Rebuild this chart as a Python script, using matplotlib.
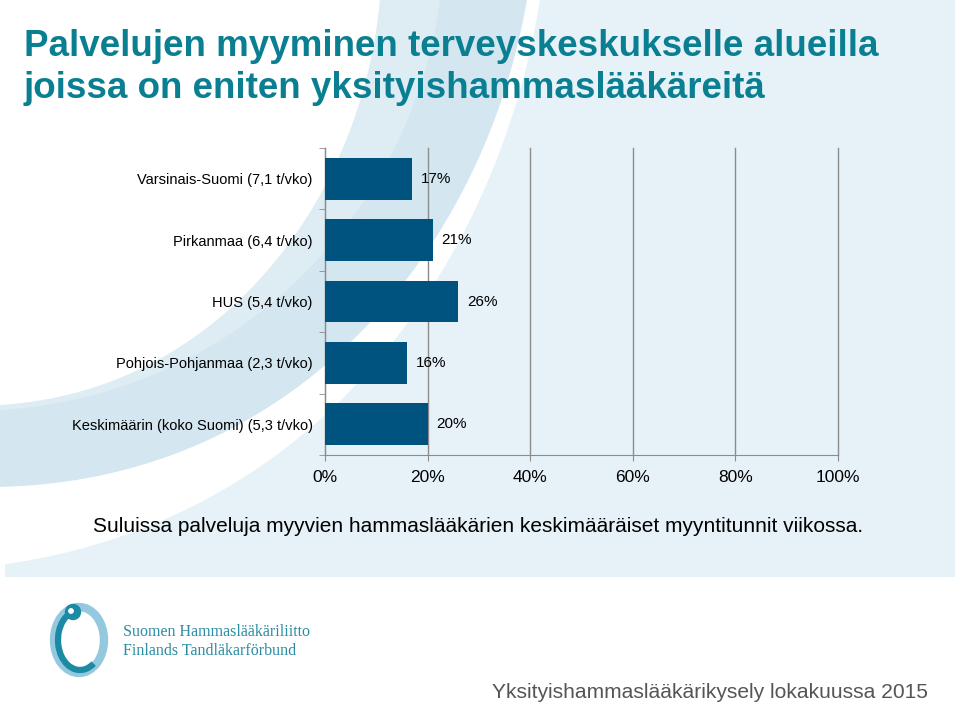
import numpy as np
import matplotlib.pyplot as plt
from matplotlib.patches import Rectangle, Ellipse, Arc, Circle

categories = [
    "Varsinais-Suomi (7,1 t/vko)",
    "Pirkanmaa (6,4 t/vko)",
    "HUS (5,4 t/vko)",
    "Pohjois-Pohjanmaa (2,3 t/vko)",
    "Keskimäärin (koko Suomi) (5,3 t/vko)",
]
values = [17, 21, 26, 16, 20]
xticks = [0, 20, 40, 60, 80, 100]

title_lines = ["Palvelujen myyminen terveyskeskukselle alueilla",
               "joissa on eniten yksityishammaslääkäreitä"]
caption = "Suluissa palveluja myyvien hammaslääkärien keskimääräiset myyntitunnit viikossa."
footer = "Yksityishammaslääkärikysely lokakuussa 2015"
logo_lines = ["Suomen Hammaslääkäriliitto", "Finlands Tandläkarförbund"]

plt.rcParams['font.family'] = ['Liberation Sans', 'DejaVu Sans']

W, H = 960, 706
fig = plt.figure(figsize=(W / 100, H / 100), dpi=100)

# background decoration, pixel coords
bg = fig.add_axes([0, 0, 1, 1], zorder=-1)
bg.set_xlim(0, W)
bg.set_ylim(H, 0)
bg.axis('off')


def bez(p0, p1, p2, p3, n=80):
    t = np.linspace(0, 1, n)[:, None]
    p = [np.array(q, float) for q in (p0, p1, p2, p3)]
    return ((1 - t) ** 3 * p[0] + 3 * (1 - t) ** 2 * t * p[1]
            + 3 * (1 - t) * t ** 2 * p[2] + t ** 3 * p[3])


bg.add_patch(Rectangle((5, 0), 950, 577, color='#e6f1f8', lw=0))
curve_l = bez((380, 0), (362, 200), (220, 392), (0, 405))
curve_m = bez((440, 0), (412, 210), (240, 395), (0, 410))
curve_r = bez((527, 0), (485, 245), (300, 480), (0, 487))
curve_w = bez((540, 0), (500, 250), (330, 520), (0, 565))

pts = np.vstack([[0, 0], curve_l, [0, 0]])
bg.fill(pts[:, 0], pts[:, 1], color='white', lw=0)
pts = np.vstack([curve_l, curve_m[::-1]])
bg.fill(pts[:, 0], pts[:, 1], color='#deecf4', lw=0)
pts = np.vstack([curve_m, curve_r[::-1]])
bg.fill(pts[:, 0], pts[:, 1], color='#d4e7f1', lw=0)
pts = np.vstack([curve_r, curve_w[::-1]])
bg.fill(pts[:, 0], pts[:, 1], color='white', lw=0)

# logo
bg.add_patch(Ellipse((79, 640), 50, 66, fill=False, ec='#93c8de', lw=6))
bg.add_patch(Arc((80, 640), 44, 60, theta1=60, theta2=250, ec='#1b8aa5', lw=4.5))
bg.add_patch(Circle((73, 612), 7.5, color='#1b8aa5'))
bg.add_patch(Circle((71, 611), 2.2, color='white'))
for i, line in enumerate(logo_lines):
    bg.text(123, 632 + 19 * i, line, family='Liberation Serif', fontsize=11.5,
            color='#2a8ca3', va='center', ha='left')

# titles and notes
for i, line in enumerate(title_lines):
    fig.text(24 / W, 1 - (47 + 41 * i) / H, line, weight='bold', fontsize=26.5,
             color='#0b7f92', ha='left', va='center')
fig.text(478 / W, 1 - 526 / H, caption, fontsize=15, color='black',
         ha='center', va='center')
fig.text(928 / W, 1 - 692 / H, footer, fontsize=15.1, color='#555555',
         ha='right', va='center')

# chart
ax = fig.add_axes([325 / W, 1 - 455 / H, 513 / W, 307 / H])
ax.patch.set_alpha(0)
y = np.arange(len(categories))
ax.barh(y, values, height=0.68, color='#00527f', zorder=3)
for yi, v in zip(y, values):
    ax.text(v + 1.7, yi, f"{v}%", va='center', ha='left', fontsize=11, zorder=4)

ax.set_xlim(0, 100)
ax.set_ylim(len(categories) - 0.5, -0.5)
ax.set_xticks(xticks)
ax.set_xticklabels([f"{t}%" for t in xticks], fontsize=12.5)
ax.set_yticks(y)
ax.set_yticklabels(categories, fontsize=10.5)
ax.set_yticks(np.arange(len(categories) + 1) - 0.5, minor=True)
ax.tick_params(axis='y', which='major', length=0, pad=9)
ax.tick_params(axis='y', which='minor', length=4, color='#8c8c8c')
ax.tick_params(axis='x', length=4, color='#8c8c8c', pad=7)
ax.grid(axis='x', color='#8c8c8c', lw=1, zorder=1)
for gl in ax.get_xgridlines():
    gl.set_clip_on(False)
for s in ['top', 'right']:
    ax.spines[s].set_visible(False)
for s in ['left', 'bottom']:
    ax.spines[s].set_color('#8c8c8c')

fig.savefig('out.png', dpi=100)
